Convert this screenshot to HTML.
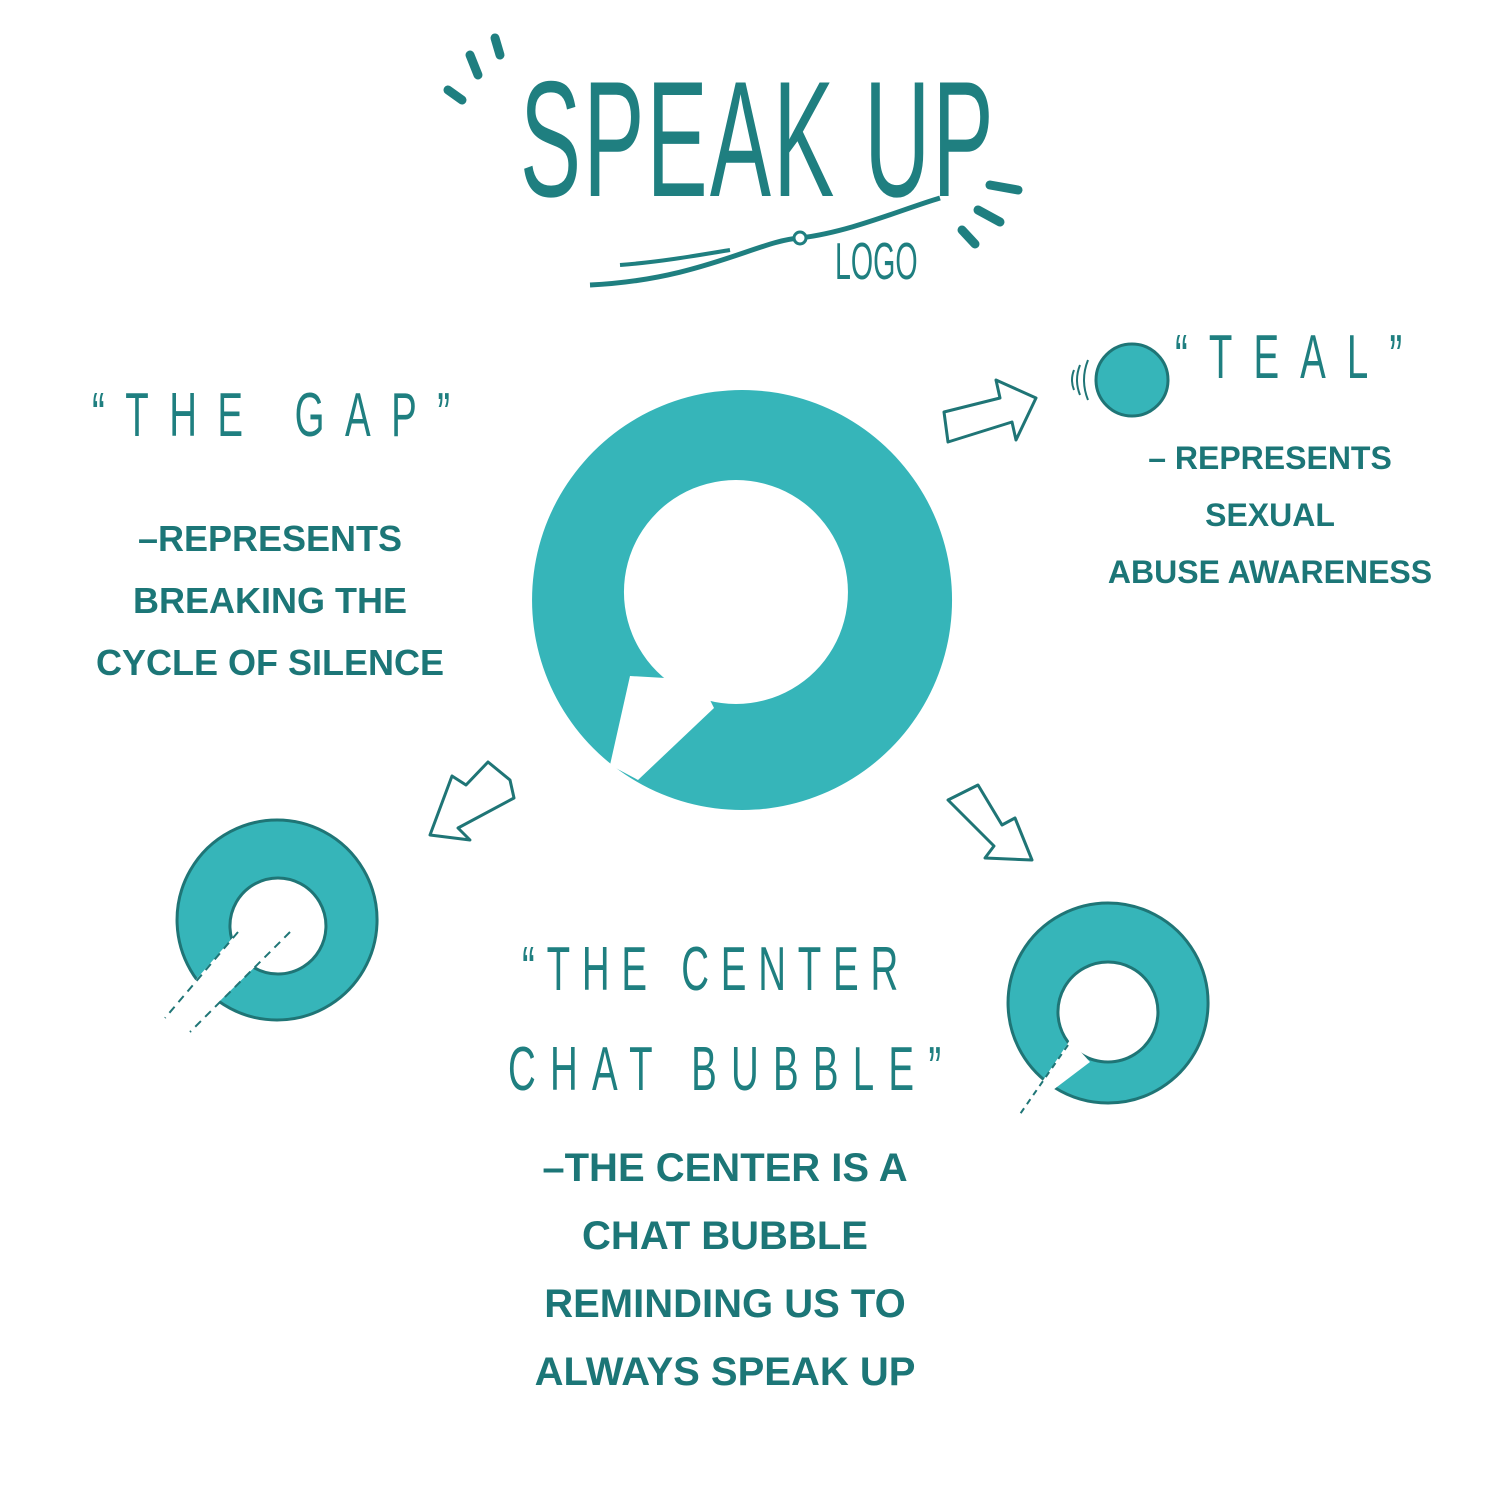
<!DOCTYPE html>
<html><head><meta charset="utf-8"><style>
html,body{margin:0;padding:0;background:#fff;}
body{width:1500px;height:1500px;position:relative;overflow:hidden;font-family:"Liberation Sans",sans-serif;}
.t{position:absolute;color:#1f7f80;white-space:nowrap;}
.h{font-family:"Liberation Sans",sans-serif;font-weight:400;font-size:62px;transform:scaleX(0.62);transform-origin:left top;}
.b{font-weight:bold;font-size:36px;text-align:center;color:#1c7677;line-height:1;}
</style></head><body>
<svg width="1500" height="1500" style="position:absolute;left:0;top:0">
<path fill="#36b5b9" fill-rule="evenodd" d="M742,390 a210,210 0 1,0 0.1,0 Z M736,480 a112,112 0 1,1 -0.1,0 Z"/>
<polygon fill="#fff" points="630,676 610,765 638,780 714,708 700,680"/>
<path fill="#36b5b9" stroke="#1f7576" stroke-width="3" fill-rule="evenodd" d="M277,820 a100,100 0 1,0 0.1,0 Z M278,878 a48,48 0 1,1 -0.1,0 Z"/>
<polygon fill="#fff" points="235,935 165,1015 190,1030 262,960"/>
<line x1="238" y1="932" x2="165" y2="1018" stroke="#1f7576" stroke-width="2" stroke-dasharray="8,6"/>
<line x1="290" y1="932" x2="190" y2="1032" stroke="#1f7576" stroke-width="2" stroke-dasharray="8,6"/>
<path fill="#36b5b9" stroke="#1f7576" stroke-width="3" fill-rule="evenodd" d="M1108,903 a100,100 0 1,0 0.1,0 Z M1108,962 a50,50 0 1,1 -0.1,0 Z"/>
<circle cx="1108" cy="1012" r="50" fill="none" stroke="#1f7576" stroke-width="2" stroke-dasharray="8,6"/>
<polygon fill="#fff" points="1070,1040 1020,1115 1090,1062"/>
<line x1="1068" y1="1045" x2="1018" y2="1117" stroke="#1f7576" stroke-width="2" stroke-dasharray="6,5"/>
<circle cx="1132" cy="380" r="36" fill="#36b5b9" stroke="#1f7576" stroke-width="3"/>
<path d="M1088,360 q-8,20 0,40 M1080,365 q-6,15 0,30 M1074,370 q-4,10 0,20" stroke="#1f7576" stroke-width="2" fill="none"/>
<g fill="#fff" stroke="#1f7576" stroke-width="3" stroke-linejoin="round">
<polygon points="944,412 1000,398 996,380 1036,398 1016,440 1012,422 948,442"/>
<polygon points="510,780 488,762 466,785 452,776 430,835 470,840 458,828 514,798"/>
<polygon points="948,800 978,785 1002,825 1015,818 1032,860 985,858 994,846"/>
</g>
<g stroke="#1f7f80" stroke-width="9" stroke-linecap="round" fill="none">
<line x1="448" y1="90" x2="462" y2="100"/><line x1="470" y1="55" x2="478" y2="75"/><line x1="495" y1="38" x2="500" y2="55"/>
<line x1="990" y1="185" x2="1018" y2="190"/><line x1="978" y1="210" x2="1000" y2="222"/><line x1="962" y1="230" x2="975" y2="244"/>
</g>
<path d="M590,285 C700,280 760,240 800,238 C850,232 900,210 940,198" stroke="#1f7f80" stroke-width="5" fill="none"/>
<path d="M620,265 C660,262 700,255 730,250" stroke="#1f7f80" stroke-width="4" fill="none"/>
<circle cx="800" cy="238" r="6" fill="#fff" stroke="#1f7f80" stroke-width="3"/>
</svg>
<div class="t" style="left:520px;top:45px;font-size:165px;transform:scaleX(0.555);transform-origin:left top;letter-spacing:4px;color:#1f7f80;">SPEAK UP</div>
<div class="t" style="left:835px;top:232px;font-size:52px;transform:scaleX(0.55);transform-origin:left top;">LOGO</div>

<div class="t h" style="left:92px;top:380px;letter-spacing:33px;">“THE GAP”</div>
<div class="t b" style="left:60px;top:508px;width:420px;line-height:62px;">–REPRESENTS<br>BREAKING THE<br>CYCLE OF SILENCE</div>

<div class="t h" style="left:1175px;top:322px;letter-spacing:34px;">“TEAL”</div>
<div class="t b" style="left:1070px;top:430px;width:400px;line-height:57px;font-size:32px;">– REPRESENTS<br>SEXUAL<br>ABUSE AWARENESS</div>

<div class="t h" style="left:522px;top:934px;letter-spacing:19px;">“THE CENTER</div>
<div class="t h" style="left:508px;top:1034px;letter-spacing:23px;">CHAT BUBBLE”</div>
<div class="t b" style="left:520px;top:1134px;width:410px;line-height:68px;font-size:40px;">–THE CENTER IS A<br>CHAT BUBBLE<br>REMINDING US TO<br>ALWAYS SPEAK UP</div>
</body></html>
